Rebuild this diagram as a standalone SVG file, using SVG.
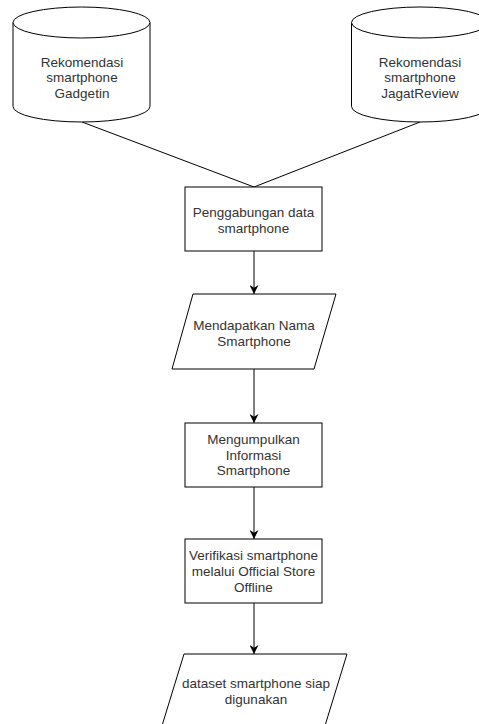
<svg xmlns="http://www.w3.org/2000/svg" width="479" height="724" viewBox="0 0 479 724">
<defs>
<style>
.s{fill:#ffffff;stroke:#000000;stroke-width:1}
.t{font-family:"Liberation Sans",Arial,sans-serif;font-size:13.5px;fill:#333333;text-anchor:middle}
.c{fill:none;stroke:#000000;stroke-width:1}
</style>
<marker id="ah" viewBox="0 0 10 10" refX="10" refY="5" markerWidth="9" markerHeight="9" markerUnits="userSpaceOnUse" orient="auto">
<path d="M0,0 L10,5 L0,10 L3,5 Z" fill="#000000"/>
</marker>
</defs>
<rect width="479" height="724" fill="#ffffff"/>
<g id="connectors">
<path class="c" d="M82,122 L254,187"/>
<path class="c" d="M420,122 L254,187"/>
<path class="c" d="M254,251 L254,294" marker-end="url(#ah)"/>
<path class="c" d="M254,369 L254,423" marker-end="url(#ah)"/>
<path class="c" d="M254,487 L254,539" marker-end="url(#ah)"/>
<path class="c" d="M254,603 L254,654" marker-end="url(#ah)"/>
</g>
<g id="gadgetin">
<path class="s" d="M13,22.5 A68.5,15.5 0 0 1 150,22.5 L150,106.5 A68.5,15.5 0 0 1 13,106.5 Z"/>
<path class="s" d="M13,22.5 A68.5,15.5 0 0 0 150,22.5" fill="none"/>
<text class="t" x="82" y="66.5">Rekomendasi</text>
<text class="t" x="82" y="82">smartphone</text>
<text class="t" x="82" y="97.5">Gadgetin</text>
</g>
<g id="jagatreview">
<path class="s" d="M351.5,22.5 A68.5,15.5 0 0 1 488.5,22.5 L488.5,106.5 A68.5,15.5 0 0 1 351.5,106.5 Z"/>
<path class="s" d="M351.5,22.5 A68.5,15.5 0 0 0 488.5,22.5" fill="none"/>
<text class="t" x="420" y="66.5">Rekomendasi</text>
<text class="t" x="420" y="82">smartphone</text>
<text class="t" x="420" y="97.5">JagatReview</text>
</g>
<g id="penggabungan">
<rect class="s" x="185" y="187" width="137" height="64"/>
<text class="t" x="253.5" y="216.5">Penggabungan data</text>
<text class="t" x="253.5" y="232.5">smartphone</text>
</g>
<g id="mendapatkan">
<path class="s" d="M193,294 L336,294 L314,369 L172,369 Z"/>
<text class="t" x="254" y="330">Mendapatkan Nama</text>
<text class="t" x="254" y="346">Smartphone</text>
</g>
<g id="mengumpulkan">
<rect class="s" x="185" y="423" width="137" height="64"/>
<text class="t" x="253.5" y="444">Mengumpulkan</text>
<text class="t" x="253.5" y="459.5">Informasi</text>
<text class="t" x="253.5" y="475">Smartphone</text>
</g>
<g id="verifikasi">
<rect class="s" x="185" y="539" width="137" height="64"/>
<text class="t" x="253.5" y="560">Verifikasi smartphone</text>
<text class="t" x="253.5" y="576">melalui Official Store</text>
<text class="t" x="253.5" y="592">Offline</text>
</g>
<g id="dataset">
<path class="s" d="M184,654 L347,654 L324,729 L161,729 Z"/>
<text class="t" x="256" y="688">dataset smartphone siap</text>
<text class="t" x="256" y="704">digunakan</text>
</g>
</svg>
